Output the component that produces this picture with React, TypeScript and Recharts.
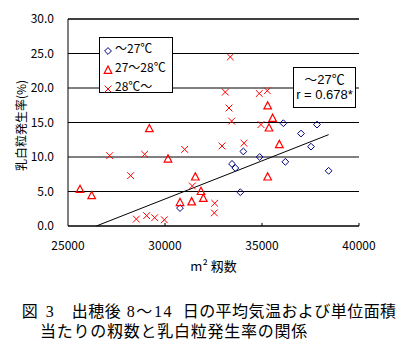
import React from 'react';
import { ScatterChart, Scatter, XAxis, YAxis, CartesianGrid, ReferenceLine } from 'recharts';

const diamondX = [30773, 33454, 33625, 33883, 34038, 34880, 36100, 36203, 37010, 37525, 37835, 38435];
const diamondY = [2.6, 9.0, 8.4, 4.9, 10.8, 10.0, 14.9, 9.3, 13.4, 11.5, 14.7, 8.0];

const triangleX = [25619, 26220, 29192, 30155, 30773, 31374, 31563, 31856, 31976, 35292, 35549, 35360, 35893, 35292];
const triangleY = [5.3, 4.4, 14.1, 9.7, 3.4, 3.5, 7.1, 5.0, 4.0, 17.4, 15.6, 14.2, 11.8, 7.1];

const crossX = [27148, 28230, 28522, 28951, 29055, 29467, 29965, 31013, 31408, 32560, 32543, 32938, 33110, 33367, 33299, 33436, 34071, 34861, 35274, 34947];
const crossY = [10.2, 7.3, 1.0, 10.4, 1.5, 1.2, 0.9, 11.1, 5.8, 3.3, 1.9, 11.6, 19.4, 24.5, 17.1, 15.2, 12.0, 19.2, 19.6, 14.7];

const trendX = [26460, 38435];
const trendY = [0, 13.24];

const xTicks = [25000, 30000, 35000, 40000];
const yTicks = [0, 5, 10, 15, 20, 25, 30];
const xTickMarks = [30000, 35000, 40000];

const seriesNames = ['～27℃', '27～28℃', '28℃～'];
const annotationLines = ['～27℃', 'r = 0.678*'];
const captionLine1 = ['図', '3', '出穂後', '8～14', '日の平均気温および単位面積'];
const captionLine2 = '当たりの籾数と乳白粒発生率の関係';
const xTitle = 'm² 籾数';
const yTitle = '乳白粒発生率(%)';

const toPoints = (xs: number[], ys: number[]) => xs.map((x, i) => ({ x, y: ys[i] }));
const diamonds = toPoints(diamondX, diamondY);
const triangles = toPoints(triangleX, triangleY);
const crosses = toPoints(crossX, crossY);

const FONT = '"Noto Sans CJK JP", "Noto Sans", sans-serif';
const BOX_FONT = '"Liberation Sans", "Noto Sans CJK JP", sans-serif';
const CAP_FONT = '"Liberation Serif", "Noto Sans CJK JP", serif';
const BLUE = '#000080';
const RED = '#ff0000';

const Diamond = (p: any) => {
  const { cx, cy } = p;
  const r = 3.4;
  return <polygon points={`${cx},${cy - r} ${cx + r},${cy} ${cx},${cy + r} ${cx - r},${cy}`} fill="none" stroke={BLUE} strokeWidth={1} />;
};
const Triangle = (p: any) => {
  const { cx, cy } = p;
  return <polygon points={`${cx},${cy - 4.2} ${cx + 3.8},${cy + 3} ${cx - 3.8},${cy + 3}`} fill="none" stroke={RED} strokeWidth={1.2} />;
};
const Cross = (p: any) => {
  const { cx, cy } = p;
  const r = 3.4;
  return (
    <g stroke={RED} strokeWidth={1}>
      <line x1={cx - r} y1={cy - r} x2={cx + r} y2={cy + r} />
      <line x1={cx - r} y1={cy + r} x2={cx + r} y2={cy - r} />
    </g>
  );
};

const YTitle = (props: any) => {
  const vb = props.viewBox || { x: 0, y: 19, width: 68, height: 207 };
  const x = vb.x + 20;
  const y = vb.y + vb.height / 2 + 3;
  return (
    <text x={x} y={y} transform={`rotate(-90, ${x}, ${y})`} textAnchor="middle" dominantBaseline="central" fontSize={12} fontFamily={FONT} fill="#000">
      {yTitle}
    </text>
  );
};
const XTitle = (props: any) => {
  const vb = props.viewBox || { x: 68, y: 226, width: 291, height: 64 };
  const x = vb.x + vb.width / 2;
  const y = vb.y + 39;
  return (
    <text x={x} y={y} textAnchor="middle" dominantBaseline="central" fontSize={13} fontFamily={FONT} fill="#000">
      {xTitle}
    </text>
  );
};

const markerIcon = (i: number) => {
  if (i === 0) return <svg width={10} height={10}><polygon points="5,1.6 8.4,5 5,8.4 1.6,5" fill="none" stroke={BLUE} /></svg>;
  if (i === 1) return <svg width={10} height={10}><polygon points="5,1 8.8,8.4 1.2,8.4" fill="none" stroke={RED} strokeWidth={1.2} /></svg>;
  return <svg width={10} height={10}><g stroke={RED}><line x1={1.6} y1={1.6} x2={8.4} y2={8.4} /><line x1={1.6} y1={8.4} x2={8.4} y2={1.6} /></g></svg>;
};

const capPos1 = [21.7, 45.7, 71.7, 126.7, 182.7];
const capSpacing1 = [0, 0, 0.5, 1.6, 0.45];

export default function App() {
  return (
    <div style={{ position: 'absolute', left: 0, top: 0, width: 407, height: 359, background: '#fff', fontFamily: FONT }}>
      <ScatterChart width={407} height={290} margin={{ top: 19, right: 48, bottom: 0, left: 0 }}>
        <CartesianGrid horizontal vertical={false} stroke="#000" strokeWidth={1} />
        <XAxis
          type="number"
          dataKey="x"
          domain={[25000, 40000]}
          ticks={xTicks}
          height={64}
          axisLine={{ stroke: '#000', strokeWidth: 1 }}
          tickLine={false}
          tickSize={6}
          tickMargin={9}
          tick={{ fill: '#000', fontSize: 12, fontFamily: FONT }}
          label={<XTitle />}
          allowDataOverflow
        />
        <YAxis
          type="number"
          dataKey="y"
          domain={[0, 30]}
          ticks={yTicks}
          width={68}
          axisLine={{ stroke: '#000', strokeWidth: 1 }}
          tickLine={false}
          tickSize={6}
          tickMargin={8}
          tickFormatter={(v: number) => v.toFixed(1)}
          tick={{ fill: '#000', fontSize: 12, fontFamily: FONT }}
          label={<YTitle />}
          allowDataOverflow
        />
        <ReferenceLine y={30} stroke="#000" strokeWidth={1} />
        {xTickMarks.map((t) => (
          <ReferenceLine key={t} segment={[{ x: t, y: 0 }, { x: t, y: 0.45 }]} stroke="#000" strokeWidth={1} />
        ))}
        <ReferenceLine
          segment={[{ x: trendX[0], y: trendY[0] }, { x: trendX[1], y: trendY[1] }]}
          stroke="#000"
          strokeWidth={1}
        />
        <Scatter name={seriesNames[0]} data={diamonds} shape={Diamond} isAnimationActive={false} />
        <Scatter name={seriesNames[1]} data={triangles} shape={Triangle} isAnimationActive={false} />
        <Scatter name={seriesNames[2]} data={crosses} shape={Cross} isAnimationActive={false} />
      </ScatterChart>

      {/* legend box */}
      <div style={{ position: 'absolute', left: 99, top: 37, width: 74, height: 56, boxSizing: 'border-box', border: '1px solid #000', background: '#fff' }}>
        {seriesNames.map((n, i) => (
          <div key={n} style={{ position: 'absolute', left: 3, top: 2 + i * 19, height: 16, display: 'flex', alignItems: 'center', fontSize: 12, lineHeight: '16px', whiteSpace: 'nowrap' }}>
            <span style={{ display: 'inline-block', width: 10, height: 10, marginRight: 2 }}>{markerIcon(i)}</span>
            <span>{n}</span>
          </div>
        ))}
      </div>

      {/* annotation box */}
      <div style={{ position: 'absolute', left: 293, top: 67, width: 63, height: 41, boxSizing: 'border-box', border: '1px solid #000', background: '#fff', fontFamily: BOX_FONT }}>
        {annotationLines.map((t, i) => (
          <div key={t} style={{ position: 'absolute', left: 0, right: 0, top: 3.5 + i * 15.5, height: 15, lineHeight: '15px', fontSize: 13, textAlign: 'center', whiteSpace: 'nowrap' }}>
            {t}
          </div>
        ))}
      </div>

      {/* caption */}
      {captionLine1.map((t, i) => (
        <div key={t} style={{ position: 'absolute', left: capPos1[i], top: 302.7, height: 18, lineHeight: '18px', fontSize: 16, letterSpacing: capSpacing1[i], whiteSpace: 'nowrap', fontFamily: CAP_FONT }}>
          {t}
        </div>
      ))}
      <div style={{ position: 'absolute', left: 40, top: 322.7, height: 18, lineHeight: '18px', fontSize: 16, letterSpacing: 0.75, whiteSpace: 'nowrap', fontFamily: CAP_FONT }}>
        {captionLine2}
      </div>
    </div>
  );
}
